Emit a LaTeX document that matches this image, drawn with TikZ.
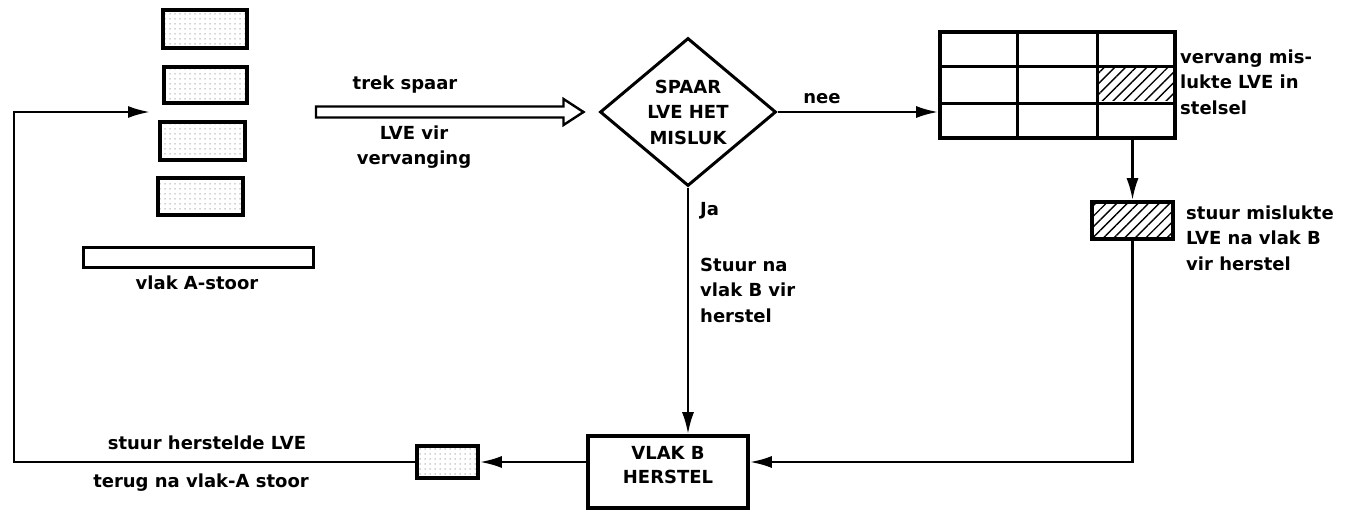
\documentclass[tikz,border=0pt]{standalone}
\usepackage{fontspec}
\setmainfont{DejaVu Sans}
\usetikzlibrary{shapes.geometric,arrows.meta,patterns.meta,calc}
\begin{document}
\begin{tikzpicture}[x=1pt,y=-1pt,
  lbl/.style={font=\bfseries\fontsize{18}{25.5}\selectfont, inner sep=0pt, align=left},
  clbl/.style={lbl, align=center},
  thickbox/.style={draw, line width=3.6pt, inner sep=0pt},
  dotfill/.style={pattern={Dots[distance=5pt,radius=0.75pt]}, pattern color=gray!70},
  hatchfill/.style={pattern={Lines[angle=45,distance=7.5pt,line width=1.4pt]}},
  conn/.style={line width=2.6pt, -{Latex[length=22pt,width=12pt]}},
  plain/.style={line width=2.6pt}]
\useasboundingbox (0,0) rectangle (1355,514);

% stack of spare units
\node[thickbox, dotfill, minimum width=84pt, minimum height=38pt] (b1) at (205,29) {};
\node[thickbox, dotfill, minimum width=83pt, minimum height=36pt] (b2) at (205.5,85) {};
\node[thickbox, dotfill, minimum width=85pt, minimum height=38pt] (b3) at (202.5,141) {};
\node[thickbox, dotfill, minimum width=85pt, minimum height=37pt] (b4) at (200.5,196.5) {};
\node[thickbox, line width=3pt, minimum width=230pt, minimum height=20pt] (bar) at (198,257) {};
\node[clbl] (stoor) at (197,283) {vlak A-stoor};

% decision
\coordinate (hs) at (316,112);
\node[draw, diamond, line width=3pt, inner sep=0pt, minimum width=176pt, minimum height=148pt] (dia) at (688,112) {};
\node[clbl] (diatxt) at (688,112) {SPAAR\\LVE HET\\MISLUK};
\coordinate (ht) at ($(dia.west)+(-15,0)$);
\draw[line width=2.4pt, line join=miter]
  ($(hs)+(0,-5.5)$) -- ($(ht)+(-20,-5.5)$) -- ($(ht)+(-20,-13)$) -- (ht)
  -- ($(ht)+(-20,13)$) -- ($(ht)+(-20,5.5)$) -- ($(hs)+(0,5.5)$) -- cycle;
\node[clbl] (trek) at (405,85) {trek spaar};
\node[clbl] (vir) at (414,147) {LVE vir\\vervanging};

% grid
\node[thickbox, minimum width=235pt, minimum height=106pt] (grid) at (1057.5,85) {};
\path[hatchfill] ($(grid.north west)!2/3!(grid.north east)+(0,35.33)$) rectangle ($(grid.north east)+(0,70.67)$);
\draw[line width=3.2pt] ($(grid.north west)!1/3!(grid.north east)$) -- ($(grid.south west)!1/3!(grid.south east)$);
\draw[line width=3.2pt] ($(grid.north west)!2/3!(grid.north east)$) -- ($(grid.south west)!2/3!(grid.south east)$);
\draw[line width=3.2pt] ($(grid.north west)!1/3!(grid.south west)$) -- ($(grid.north east)!1/3!(grid.south east)$);
\draw[line width=3.2pt] ($(grid.north west)!2/3!(grid.south west)$) -- ($(grid.north east)!2/3!(grid.south east)$);
\node[thickbox, minimum width=235pt, minimum height=106pt] (gridframe) at (grid) {};
\node[lbl, anchor=west] (vervang) at (1180,82) {vervang mis-\\lukte LVE in\\stelsel};
\node[lbl, anchor=south] (nee) at (822,104) {nee};
\draw[conn] (dia.east) -- (dia.east -| grid.west);

% failed unit
\node[thickbox, hatchfill, minimum width=81pt, minimum height=37pt] (hb) at (1132.5,220.5) {};
\draw[conn] (grid.south -| hb) -- (hb.north);
\node[lbl, anchor=west] (stuurmis) at (1186,238) {stuur mislukte\\LVE na vlak B\\vir herstel};

% repair
\node[thickbox, minimum width=160pt, minimum height=72pt] (hr) at (668,472) {};
\node[clbl, font=\bfseries\fontsize{18}{24}\selectfont] (hrtxt) at (668,465) {VLAK B\\HERSTEL};
\draw[conn] (dia.south) -- (dia.south |- hr.north);
\node[lbl, anchor=west] (ja) at (700,211) {Ja};
\node[lbl, anchor=west] (stuurna) at (700,290) {Stuur na\\vlak B vir\\herstel};

% returned unit
\node[thickbox, dotfill, minimum width=61pt, minimum height=32pt] (ret) at (447.5,462) {};
\coordinate (c3) at (hb.south |- ret);
\draw[conn] (hb.south) -- (c3) -- (c3 -| hr.east);
\draw[conn] (ret -| hr.west) -- (ret.east);
\coordinate (c1) at (14,462);
\coordinate (c2) at (14,112);
\coordinate (loopend) at (150,112);
\draw[conn] (ret.west) -- (c1) -- (c2) -- (loopend);
\node[clbl] (sh) at (207,443) {stuur herstelde LVE};
\node[clbl] (terug) at (201,483) {terug na vlak-A stoor};
\end{tikzpicture}
\end{document}
